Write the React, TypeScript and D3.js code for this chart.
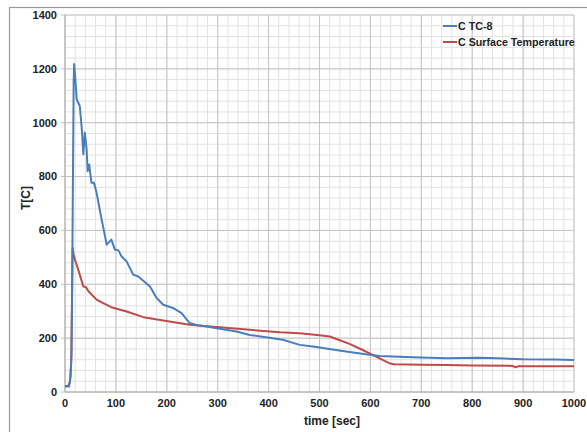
import * as d3 from "d3";

const W = 587;
const H = 432;
const M = { left: 65, right: 13, top: 15, bottom: 40 };

// C TC-8
const tcTime = [0, 8, 11, 13, 15, 17, 18, 20, 23, 29, 33, 36, 39, 42.5, 44.5, 47.5, 52, 57, 62, 72, 82, 91, 98, 105, 111, 121, 134, 144, 167, 180, 193, 212, 229, 245, 260, 278, 298, 337, 363, 428, 461, 487, 552, 598, 618, 683, 750, 814, 850, 900, 960, 1000];
const tcTemp = [20, 20, 60, 145, 640, 1150, 1218, 1170, 1087, 1062, 976, 883, 963, 901, 820, 845, 777, 777, 740, 640, 547, 566, 529, 526, 504, 485, 436, 429, 392, 349, 324, 312, 293, 256, 248, 243, 237, 225, 212, 194, 175, 169, 150, 138, 134, 129, 125, 127, 125, 122, 121, 119];

// C Surface Temperature
const surfTime = [0, 5, 8, 10, 12, 13.5, 15, 17, 19.6, 25, 29, 36, 41, 46, 62, 75, 91, 121, 154, 199, 245, 298, 363, 422, 461, 500, 520, 540, 560, 585, 611, 637, 647, 700, 748, 800, 879, 885, 892, 1000];
const surfTemp = [22, 22, 28, 40, 108, 300, 535, 510, 491, 460, 436, 392, 390, 374, 343, 330, 315, 299, 278, 264, 250, 241, 231, 222, 218, 211, 206, 192, 178, 156, 131, 107, 103, 101, 100, 98, 97, 92, 96, 96];

const xTicks = [0, 100, 200, 300, 400, 500, 600, 700, 800, 900, 1000];
const yTicks = [0, 200, 400, 600, 800, 1000, 1200, 1400];

const seriesNames = ["C TC-8", "C Surface Temperature"];
const colors = ["#4a7ebb", "#be4b48"];

export default function App() {
  const x = d3.scaleLinear().domain([0, 1000]).range([M.left, W - M.right]);
  const y = d3.scaleLinear().domain([0, 1400]).range([H - M.bottom, M.top]);

  const minorX = d3.range(0, 1001, 20);
  const minorY = d3.range(0, 1401, 40);

  const line = d3
    .line<[number, number]>()
    .x((d) => x(d[0]))
    .y((d) => y(d[1]));

  const tcPath = line(tcTime.map((t, i) => [t, tcTemp[i]]));
  const surfPath = line(surfTime.map((t, i) => [t, surfTemp[i]]));

  const font = "Liberation Sans, Arial, sans-serif";

  return (
    <svg
      width={W}
      height={H}
      style={{ position: "absolute", left: 0, top: 0, background: "#fff" }}
    >
      <rect x={9.5} y={7.5} width={W} height={H} fill="none" stroke="#999" strokeWidth={1.2} />
      {minorX.map((v) => (
        <line key={"mx" + v} x1={x(v)} x2={x(v)} y1={y(0)} y2={y(1400)} stroke="#e2e2e2" strokeWidth={1} />
      ))}
      {minorY.map((v) => (
        <line key={"my" + v} x1={x(0)} x2={x(1000)} y1={y(v)} y2={y(v)} stroke="#e2e2e2" strokeWidth={1} />
      ))}
      {xTicks.map((v) => (
        <line key={"gx" + v} x1={x(v)} x2={x(v)} y1={y(0)} y2={y(1400)} stroke="#c4c4c4" strokeWidth={1} />
      ))}
      {yTicks.map((v) => (
        <line key={"gy" + v} x1={x(0) - 4} x2={x(1000)} y1={y(v)} y2={y(v)} stroke="#c4c4c4" strokeWidth={1} />
      ))}
      <line x1={x(0)} x2={x(0)} y1={y(0)} y2={y(1400)} stroke="#b0b0b0" />
      <line x1={x(0)} x2={x(1000)} y1={y(0)} y2={y(0)} stroke="#b0b0b0" />

      {yTicks.map((v) => (
        <text key={"ty" + v} x={x(0) - 8} y={y(v)} dy="0.35em" textAnchor="end" fontFamily={font} fontSize={11} fontWeight="bold" fill="#222">
          {v}
        </text>
      ))}
      {xTicks.map((v) => (
        <text key={"tx" + v} x={x(v)} y={y(0) + 15} textAnchor="middle" fontFamily={font} fontSize={11} fontWeight="bold" fill="#222">
          {v}
        </text>
      ))}
      <text x={332} y={425} textAnchor="middle" fontFamily={font} fontSize={12} fontWeight="bold" fill="#222">
        time [sec]
      </text>
      <text transform={`translate(30,198) rotate(-90)`} textAnchor="middle" fontFamily={font} fontSize={12} fontWeight="bold" fill="#222">
        T[C]
      </text>

      <path d={surfPath ?? ""} fill="none" stroke={colors[1]} strokeWidth={2} strokeLinejoin="round" />
      <path d={tcPath ?? ""} fill="none" stroke={colors[0]} strokeWidth={2} strokeLinejoin="round" />

      {seriesNames.map((name, i) => (
        <g key={name} transform={`translate(443,${26 + i * 16})`}>
          <line x1={0} x2={14} y1={0} y2={0} stroke={colors[i]} strokeWidth={2} />
          <text x={15} y={0} dy="0.35em" fontFamily={font} fontSize={10.7} fontWeight="bold" fill="#222">
            {name}
          </text>
        </g>
      ))}
    </svg>
  );
}
